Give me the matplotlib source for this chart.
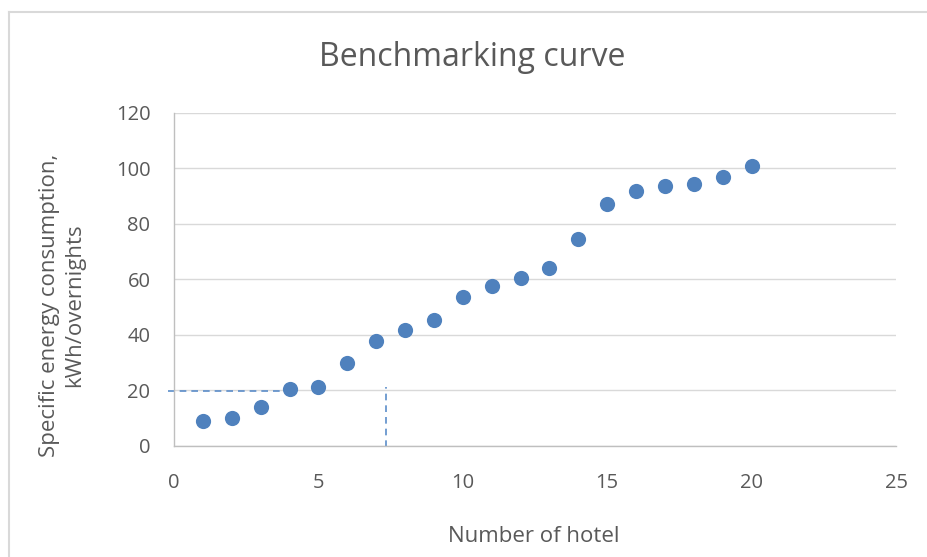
import matplotlib
matplotlib.use("Agg")
import matplotlib.pyplot as plt
from matplotlib.lines import Line2D

hotel = list(range(1, 21))
energy = [8.9, 10.0, 14.0, 20.4, 21.2, 29.8, 37.8, 41.7, 45.3, 53.7,
          57.6, 60.4, 64.1, 74.5, 87.0, 91.8, 93.6, 94.3, 96.8, 100.9]
xticks = [0, 5, 10, 15, 20, 25]
yticks = [0, 20, 40, 60, 80, 100, 120]
bench_y = 19.5
bench_x_end = 3.67
bench_vx = 7.34
bench_vy_top = 21.0

plt.rcParams['font.family'] = ['Open Sans', 'DejaVu Sans']
txt = '#595959'
W, H = 927, 557
fig = plt.figure(figsize=(W/100, H/100), dpi=100)
bx, by = 8.5/W, 1 - 11.5/H
fig.add_artist(Line2D([bx, 1.0], [by, by], transform=fig.transFigure, color='#d9d9d9', linewidth=1.5))
fig.add_artist(Line2D([bx, bx], [0.0, by], transform=fig.transFigure, color='#d9d9d9', linewidth=1.5))

ax = fig.add_axes([174/W, 1-445.5/H, (896-174)/W, (445.5-113)/H])
ax.set_xlim(0, 25)
ax.set_ylim(0, 120)
ax.set_xticks(xticks)
ax.set_yticks(yticks)
ax.grid(axis='y', color='#d9d9d9', linewidth=1.0)
ax.set_axisbelow(True)
for s in ['top', 'right']:
    ax.spines[s].set_visible(False)
for s in ['left', 'bottom']:
    ax.spines[s].set_color('#bfbfbf')
    ax.spines[s].set_linewidth(1.0)
ax.tick_params(length=0, labelsize=14.5, colors=txt)
ax.tick_params(axis='y', pad=17)
ax.tick_params(axis='x', pad=20)

ax.plot([-0.2, bench_x_end], [bench_y, bench_y], linestyle=(0, (4, 3)), color='#5b8dc9',
        linewidth=1.2, clip_on=False)
ax.plot([bench_vx, bench_vx], [-0.5, bench_vy_top], linestyle=(0, (4, 3)), color='#5b8dc9',
        linewidth=1.2, clip_on=False)
ax.scatter(hotel, energy, s=120, color='#4f81bd', zorder=3, linewidths=0)

fig.text(472/W, 1-57/H, 'Benchmarking curve', ha='center', va='center', fontsize=23, color=txt)
fig.text(534/W, 1-536/H, 'Number of hotel', ha='center', va='center', fontsize=16, color=txt)
fig.text(62/W, 1-305/H, 'Specific energy consumption,\nkWh/overnights', ha='center', va='center',
         fontsize=16, color=txt, rotation=90, linespacing=1.3)

fig.savefig('out.png', dpi=100, facecolor='white')
